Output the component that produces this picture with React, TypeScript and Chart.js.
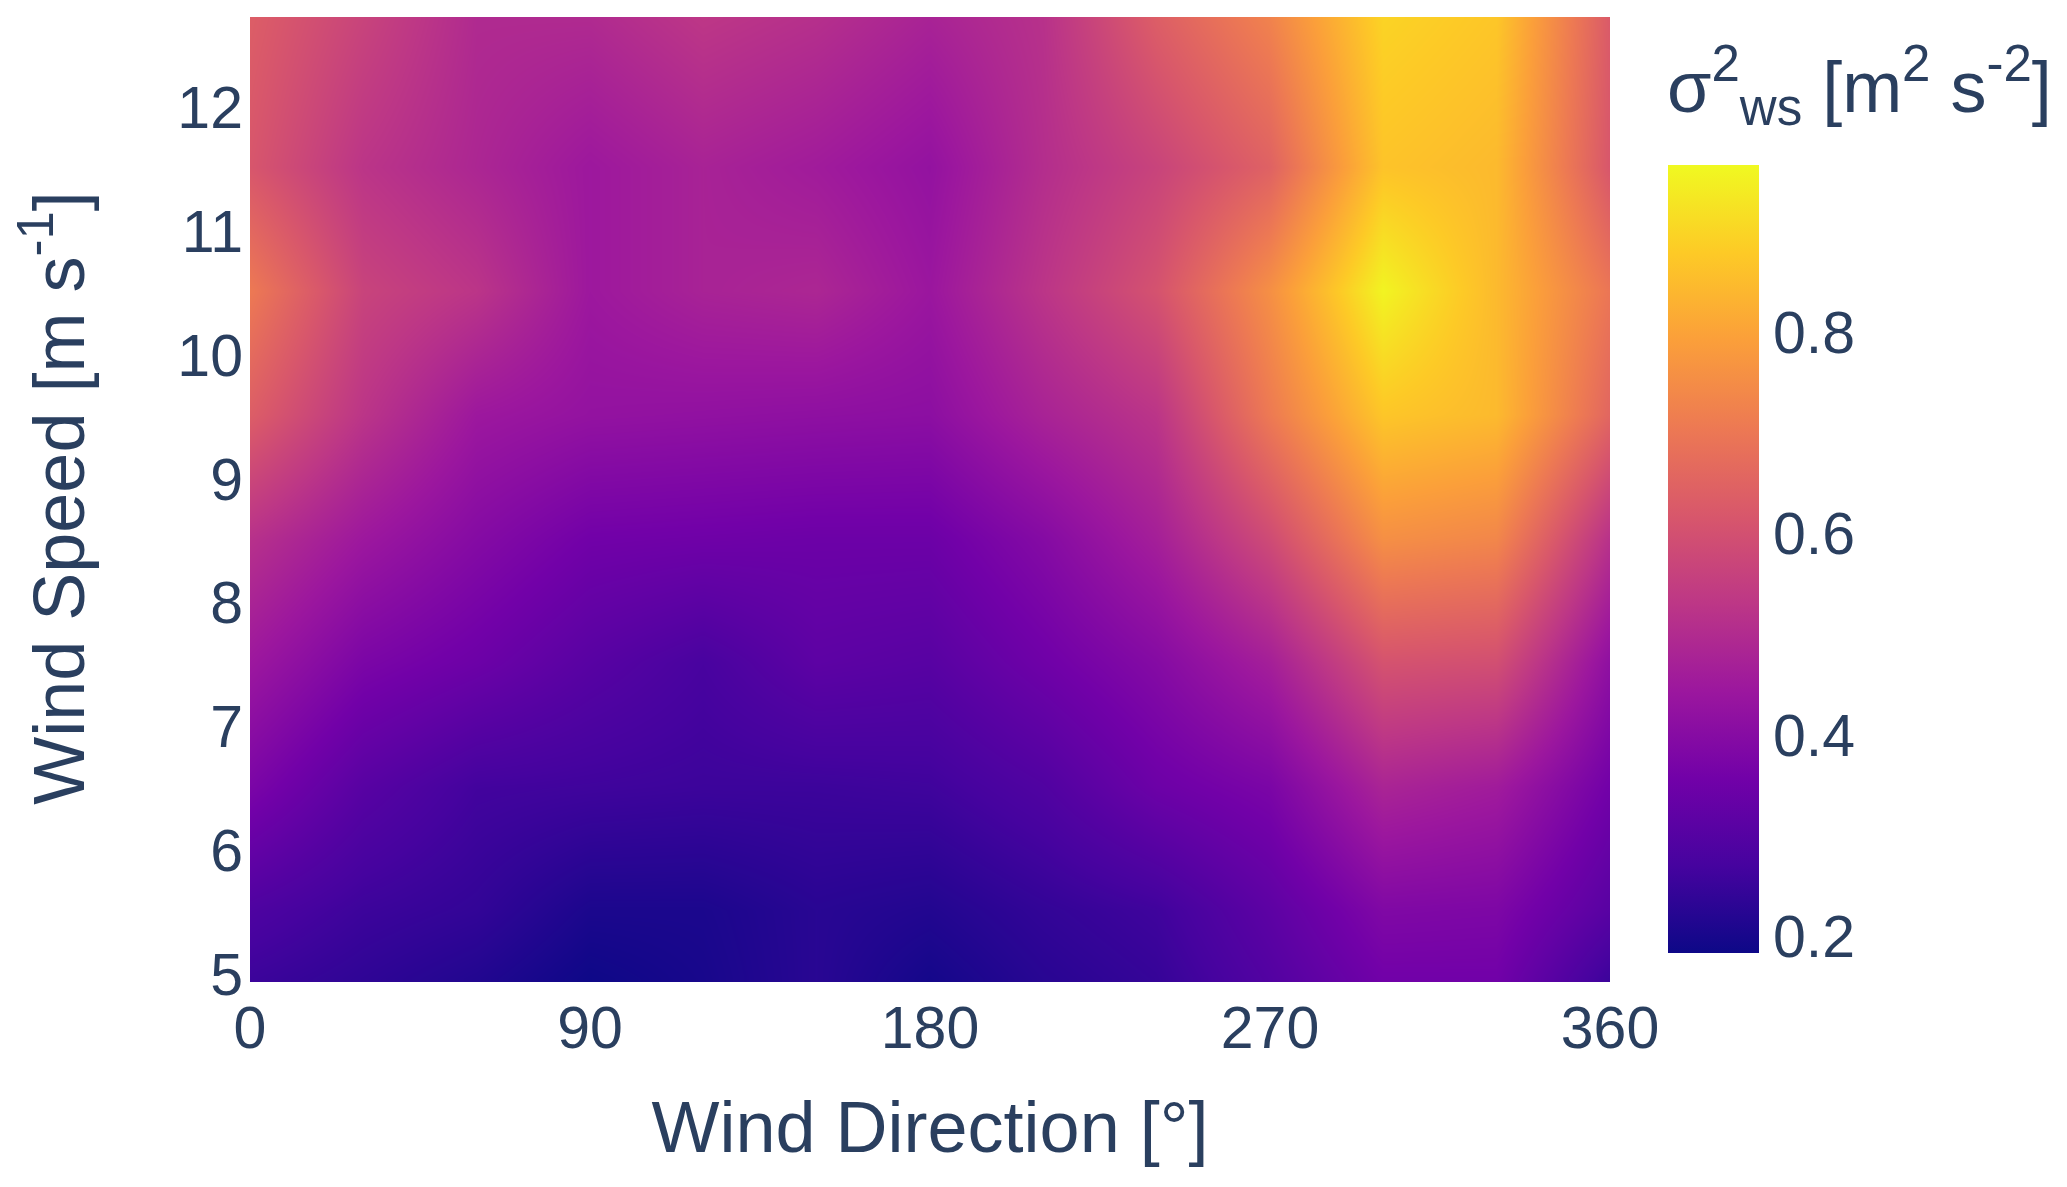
import React, { useEffect, useRef } from "react";
import { Chart, registerables } from "chart.js";

Chart.register(...registerables);

const windDirections = [0, 30, 60, 90, 120, 150, 180, 210, 240, 270, 300, 330, 360];
const windSpeeds = [5, 5.55, 6.55, 7.55, 8.55, 9.55, 10.55, 11.55, 12.75];
const speedA = [0.26, 0.24, 0.22, 0.19, 0.205, 0.23, 0.2, 0.23, 0.25, 0.3, 0.36, 0.36, 0.26];
const speedB = [0.29, 0.26, 0.245, 0.21, 0.21, 0.23, 0.22, 0.245, 0.265, 0.32, 0.39, 0.385, 0.31];
const speedC = [0.38, 0.31, 0.27, 0.265, 0.26, 0.26, 0.265, 0.295, 0.35, 0.38, 0.485, 0.46, 0.36];
const speedD = [0.45, 0.38, 0.35, 0.31, 0.28, 0.32, 0.31, 0.355, 0.4, 0.47, 0.61, 0.6, 0.42];
const speedE = [0.52, 0.45, 0.4, 0.36, 0.355, 0.35, 0.35, 0.4, 0.47, 0.59, 0.76, 0.74, 0.52];
const speedF = [0.64, 0.53, 0.45, 0.43, 0.425, 0.42, 0.415, 0.48, 0.53, 0.71, 0.875, 0.85, 0.66];
const speedG = [0.71, 0.57, 0.53, 0.45, 0.48, 0.49, 0.445, 0.53, 0.61, 0.76, 0.96, 0.85, 0.7];
const speedH = [0.62, 0.53, 0.49, 0.45, 0.48, 0.46, 0.43, 0.51, 0.57, 0.65, 0.87, 0.85, 0.62];
const speedI = [0.64, 0.57, 0.5, 0.5, 0.535, 0.515, 0.48, 0.52, 0.64, 0.73, 0.9, 0.875, 0.63];
const varianceRows = [speedA, speedB, speedC, speedD, speedE, speedF, speedG, speedH, speedI];

const xTicks = [0, 90, 180, 270, 360];
const yTicks = [5, 6, 7, 8, 9, 10, 11, 12];
const colorTicks = [0.2, 0.4, 0.6, 0.8];
const xRange = [0, 360];
const yRange = [4.974, 12.764];
const colorRange = [0.188, 0.97];
const plasma = ["#0d0887", "#46039f", "#7201a8", "#9c179e", "#bd3786", "#d8576b", "#ed7953", "#fb9f3a", "#fdca26", "#f0f921"];

const INK = "#2a3f5f";
const FONT = "Liberation Sans";
const TICK = 59;
const TITLE = 72;
const SMALL = 51;

type Run = { t: string; mode?: "sup" | "sub" };
const yTitleRuns: Run[] = [{ t: "Wind Speed [m s" }, { t: "-1", mode: "sup" }, { t: "]" }];
const colorTitleRuns: Run[] = [
  { t: "σ" },
  { t: "2", mode: "sup" },
  { t: "ws", mode: "sub" },
  { t: " [m" },
  { t: "2", mode: "sup" },
  { t: " s" },
  { t: "-2", mode: "sup" },
  { t: "]" },
];

const plasmaRgb = plasma.map((h) => [1, 3, 5].map((i) => parseInt(h.slice(i, i + 2), 16)));

function colorOf(v: number, out: number[]) {
  const t = Math.min(1, Math.max(0, (v - colorRange[0]) / (colorRange[1] - colorRange[0])));
  const f = t * (plasmaRgb.length - 1);
  const i = Math.min(plasmaRgb.length - 2, Math.floor(f));
  const w = f - i;
  for (let k = 0; k < 3; k++) out[k] = plasmaRgb[i][k] * (1 - w) + plasmaRgb[i + 1][k] * w;
}

function bracket(list: number[], v: number): [number, number] {
  let i = 0;
  while (i < list.length - 2 && v > list[i + 1]) i++;
  const w = Math.min(1, Math.max(0, (v - list[i]) / (list[i + 1] - list[i])));
  return [i, w];
}

function drawRuns(ctx: CanvasRenderingContext2D, runs: Run[]) {
  ctx.fillStyle = INK;
  ctx.textAlign = "left";
  ctx.textBaseline = "alphabetic";
  let x = 0;
  for (const r of runs) {
    ctx.font = `${r.mode ? SMALL : TITLE}px "${FONT}"`;
    const dy = r.mode === "sup" ? -31 : r.mode === "sub" ? 13 : 0;
    ctx.fillText(r.t, x, dy);
    x += ctx.measureText(r.t).width;
  }
  return x;
}

function runsWidth(ctx: CanvasRenderingContext2D, runs: Run[]) {
  let x = 0;
  for (const r of runs) {
    ctx.font = `${r.mode ? SMALL : TITLE}px "${FONT}"`;
    x += ctx.measureText(r.t).width;
  }
  return x;
}

const heatmapPlugin = {
  id: "heatmap",
  beforeDatasetsDraw(chart: any) {
    const { ctx, chartArea: a, scales } = chart;
    const w = Math.round(a.right - a.left);
    const h = Math.round(a.bottom - a.top);
    const img = ctx.createImageData(w, h);
    const points = chart.data.datasets[0].data as { v: number }[];
    const nx = windDirections.length;
    const col = [0, 0, 0];
    const xb = Array.from({ length: w }, (_, px) => bracket(windDirections, scales.x.getValueForPixel(a.left + px + 0.5)));
    for (let py = 0; py < h; py++) {
      const [j, wy] = bracket(windSpeeds, scales.y.getValueForPixel(a.top + py + 0.5));
      for (let px = 0; px < w; px++) {
        const [i, wx] = xb[px];
        const v =
          points[j * nx + i].v * (1 - wx) * (1 - wy) +
          points[j * nx + i + 1].v * wx * (1 - wy) +
          points[(j + 1) * nx + i].v * (1 - wx) * wy +
          points[(j + 1) * nx + i + 1].v * wx * wy;
        colorOf(v, col);
        const o = (py * w + px) * 4;
        img.data[o] = col[0];
        img.data[o + 1] = col[1];
        img.data[o + 2] = col[2];
        img.data[o + 3] = 255;
      }
    }
    ctx.putImageData(img, Math.round(a.left), Math.round(a.top));
  },
  afterDraw(chart: any) {
    const { ctx } = chart;
    ctx.save();
    const width = runsWidth(ctx, yTitleRuns);
    ctx.translate(84, 498 + width / 2);
    ctx.rotate(-Math.PI / 2);
    drawRuns(ctx, yTitleRuns);
    ctx.restore();
  },
};

const colorTitlePlugin = {
  id: "colorTitle",
  afterDraw(chart: any) {
    const { ctx } = chart;
    ctx.save();
    ctx.translate(1667, 112);
    drawRuns(ctx, colorTitleRuns);
    ctx.restore();
  },
};

const tickFont = { family: FONT, size: TICK };

export default function App() {
  const mainRef = useRef<HTMLCanvasElement>(null);
  const barRef = useRef<HTMLCanvasElement>(null);

  useEffect(() => {
    const points: { x: number; y: number; v: number }[] = [];
    windSpeeds.forEach((y, j) => windDirections.forEach((x, i) => points.push({ x, y, v: varianceRows[j][i] })));

    const main = new Chart(mainRef.current as HTMLCanvasElement, {
      type: "scatter",
      data: { datasets: [{ label: "σ²ws", data: points as any, pointRadius: 0, pointHoverRadius: 0 }] },
      plugins: [heatmapPlugin as any],
      options: {
        responsive: false,
        animation: false,
        events: [],
        layout: { padding: { left: 0, right: 457, top: 17, bottom: 0 } },
        plugins: { legend: { display: false }, tooltip: { enabled: false } },
        scales: {
          x: {
            type: "linear",
            min: xRange[0],
            max: xRange[1],
            grid: { display: false, drawTicks: false },
            border: { display: false },
            afterBuildTicks: (s: any) => {
              s.ticks = xTicks.map((value) => ({ value }));
            },
            afterFit: (s: any) => {
              s.height = 205;
              s.paddingLeft = 0;
              s.paddingRight = 0;
            },
            ticks: { font: tickFont, color: INK, padding: 14, maxRotation: 0, autoSkip: false },
            title: {
              display: true,
              text: "Wind Direction [°]",
              color: INK,
              font: { family: FONT, size: TITLE },
              padding: { top: 0, bottom: 12 },
            },
          },
          y: {
            type: "linear",
            min: yRange[0],
            max: yRange[1],
            grid: { display: false, drawTicks: false },
            border: { display: false },
            afterBuildTicks: (s: any) => {
              s.ticks = yTicks.map((value) => ({ value }));
            },
            afterFit: (s: any) => {
              s.width = 250;
              s.paddingTop = 0;
              s.paddingBottom = 0;
            },
            ticks: { font: tickFont, color: INK, padding: 7, autoSkip: false },
          },
        },
      },
    });

    const bar = new Chart(barRef.current as HTMLCanvasElement, {
      type: "bar",
      data: {
        labels: ["σ²ws"],
        datasets: [
          {
            data: [colorRange as any],
            barPercentage: 1,
            categoryPercentage: 1,
            borderWidth: 0,
            backgroundColor: (c: any) => {
              const s = c.chart.scales.y;
              const y0 = s ? s.getPixelForValue(colorRange[0]) : NaN;
              const y1 = s ? s.getPixelForValue(colorRange[1]) : NaN;
              if (!c.chart.chartArea || !Number.isFinite(y0) || !Number.isFinite(y1)) return plasma[0];
              const g = c.chart.ctx.createLinearGradient(0, y0, 0, y1);
              plasma.forEach((h, i) => g.addColorStop(i / (plasma.length - 1), h));
              return g;
            },
          },
        ],
      },
      plugins: [colorTitlePlugin as any],
      options: {
        responsive: false,
        animation: false,
        events: [],
        layout: { padding: { left: 1668, right: 0, top: 165, bottom: 234 } },
        plugins: { legend: { display: false }, tooltip: { enabled: false } },
        scales: {
          x: { display: false },
          y: {
            type: "linear",
            position: "right",
            min: colorRange[0],
            max: colorRange[1],
            grid: { display: false, drawTicks: false },
            border: { display: false },
            afterBuildTicks: (s: any) => {
              s.ticks = colorTicks.map((value) => ({ value }));
            },
            afterFit: (s: any) => {
              s.width = 308;
            },
            ticks: {
              font: tickFont,
              color: INK,
              padding: 14,
              autoSkip: false,
              callback: (v: any) => Number(v).toFixed(1),
            },
          },
        },
      },
    });

    return () => {
      main.destroy();
      bar.destroy();
    };
  }, []);

  const style: React.CSSProperties = { position: "absolute", left: 0, top: 0 };
  return (
    <div style={{ position: "absolute", left: 0, top: 0, width: 2067, height: 1187, background: "#fff" }}>
      <canvas ref={mainRef} width={2067} height={1187} style={style} />
      <canvas ref={barRef} width={2067} height={1187} style={style} />
    </div>
  );
}
